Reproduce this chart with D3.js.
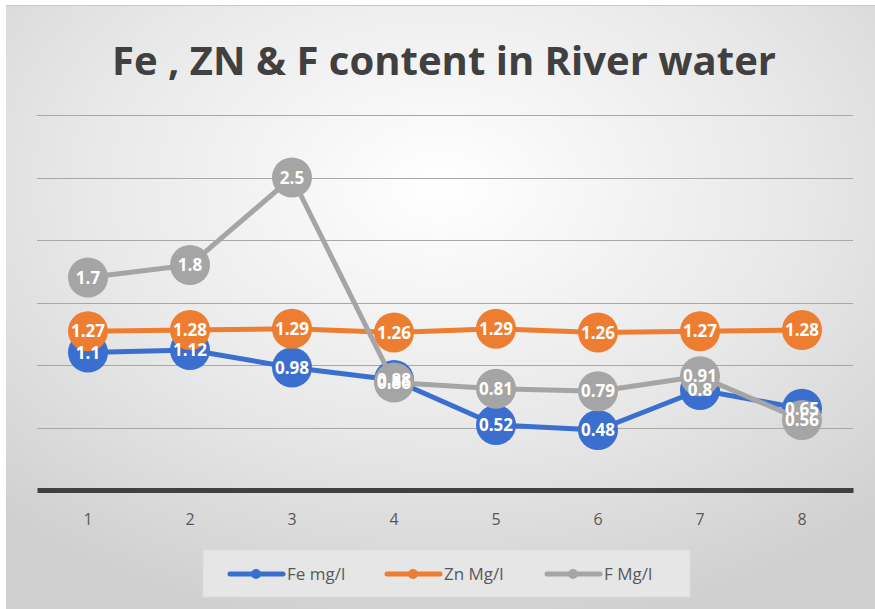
<!DOCTYPE html>
<html><head><meta charset="utf-8">
<script src="https://cdn.jsdelivr.net/npm/d3@7"></script>
<style>body{margin:0;background:#fff}svg{display:block}</style>
</head><body>
<svg id="c" width="875" height="609"></svg>
<script>
const categories = ["1","2","3","4","5","6","7","8"];
const feValues = [1.1, 1.12, 0.98, 0.88, 0.52, 0.48, 0.8, 0.65];
const znValues = [1.27, 1.28, 1.29, 1.26, 1.29, 1.26, 1.27, 1.28];
const fValues  = [1.7, 1.8, 2.5, 0.86, 0.81, 0.79, 0.91, 0.56];
const seriesNames = ["Fe mg/l", "Zn Mg/l", "F Mg/l"];
const seriesColors = ["#3a6fcf", "#ed7d31", "#a5a5a5"];
const yTicks = [0, 0.5, 1, 1.5, 2, 2.5, 3];
const titleText = "Fe , ZN & F content in River water";

const svg = d3.select("#c");
const defs = svg.append("defs");
const g = defs.append("radialGradient").attr("id","bg").attr("cx","50%").attr("cy","30%").attr("r","75%");
g.append("stop").attr("offset","0%").attr("stop-color","#ffffff");
g.append("stop").attr("offset","55%").attr("stop-color","#e8e8e8");
g.append("stop").attr("offset","100%").attr("stop-color","#cfcfcf");
svg.append("rect").attr("x",6).attr("y",5).attr("width",869).attr("height",604).attr("fill","url(#bg)");
svg.append("line").attr("x1",6).attr("x2",875).attr("y1",5.5).attr("y2",5.5).attr("stroke","#c8c8c8");

const x = d3.scaleBand().domain(categories).range([37, 853]);
const y = d3.scaleLinear().domain([0, 3]).range([490, 115]);

// gridlines
svg.append("g").selectAll("line").data(yTicks.filter(d => d > 0)).join("line")
  .attr("x1", 37).attr("x2", 853)
  .attr("y1", d => Math.round(y(d)) + 0.5).attr("y2", d => Math.round(y(d)) + 0.5)
  .attr("stroke", "#a8a8a8").attr("stroke-width", 1);

// baseline axis
const xAxis = svg.append("g").attr("transform", `translate(0,${y(0)})`)
  .call(d3.axisBottom(x).tickSize(0).tickPadding(24));
xAxis.select(".domain").attr("stroke", "#404040").attr("stroke-width", 5);
xAxis.selectAll("text").attr("font-family", "'Open Sans', sans-serif").attr("font-size", 16).attr("fill", "#595959");

// title
svg.append("text").attr("x", 444).attr("y", 75).attr("text-anchor", "middle")
  .attr("font-family", "'Open Sans', sans-serif").attr("font-weight", 700).attr("font-size", 40)
  .attr("fill", "#404040").attr("textLength", 664).attr("lengthAdjust", "spacingAndGlyphs")
  .text(titleText);

const allSeries = [feValues, znValues, fValues];
const line = d3.line().x((d, i) => x(categories[i]) + x.bandwidth() / 2).y(d => y(d));

allSeries.forEach((vals, si) => {
  const gs = svg.append("g");
  gs.append("path").datum(vals).attr("d", line).attr("fill", "none")
    .attr("stroke", seriesColors[si]).attr("stroke-width", 5).attr("stroke-linejoin", "round");
  gs.selectAll("circle").data(vals).join("circle")
    .attr("cx", (d, i) => x(categories[i]) + x.bandwidth() / 2).attr("cy", d => y(d))
    .attr("r", 20).attr("fill", seriesColors[si]);
});
allSeries.forEach((vals, si) => {
  svg.append("g").selectAll("text").data(vals).join("text")
    .attr("x", (d, i) => x(categories[i]) + x.bandwidth() / 2).attr("y", d => y(d) + 6)
    .attr("text-anchor", "middle").attr("font-family", "'Open Sans', sans-serif")
    .attr("font-weight", 700).attr("font-size", 17).attr("fill", "#ffffff")
    .text(d => d);
});

// legend
const lg = svg.append("g");
lg.append("rect").attr("x", 203).attr("y", 550).attr("width", 487).attr("height", 47)
  .attr("fill", "#e6e6e6").attr("stroke", "#dcdcdc");
const legX = [230, 387, 547];
seriesNames.forEach((n, i) => {
  lg.append("line").attr("x1", legX[i]).attr("x2", legX[i] + 53).attr("y1", 574).attr("y2", 574)
    .attr("stroke", seriesColors[i]).attr("stroke-width", 5).attr("stroke-linecap", "round");
  lg.append("circle").attr("cx", legX[i] + 26).attr("cy", 574).attr("r", 5).attr("fill", seriesColors[i]);
  lg.append("text").attr("x", legX[i] + 57).attr("y", 580).attr("font-family", "'Open Sans', sans-serif")
    .attr("font-size", 17).attr("fill", "#595959").text(n);
});
</script>
</body></html>
